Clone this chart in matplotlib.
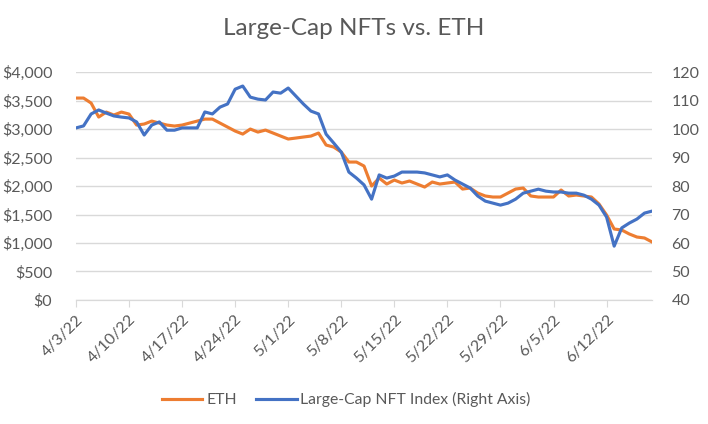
import numpy as np
import pandas as pd
import matplotlib
matplotlib.use("Agg")
import matplotlib.pyplot as plt
import matplotlib.ticker as mticker

# — DATA —
dates = pd.date_range("2022-04-03", "2022-06-18", freq="D")

eth = [3544, 3544, 3456, 3211, 3298, 3246, 3298, 3263, 3070, 3088,
       3140, 3105, 3070, 3053, 3070, 3105, 3140, 3175, 3175, 3105,
       3035, 2965, 2912, 3000, 2947, 2982, 2930, 2877, 2825, 2842,
       2860, 2877, 2930, 2719, 2684, 2596, 2421, 2421, 2351, 2000,
       2140, 2035, 2105, 2053, 2088, 2035, 1982, 2070, 2035, 2053,
       2070, 1947, 1965, 1877, 1825, 1807, 1807, 1877, 1947, 1965,
       1825, 1807, 1807, 1807, 1930, 1825, 1842, 1825, 1807, 1684,
       1491, 1246, 1228, 1158, 1105, 1088, 1018]

nft_index = [100.4, 101.1, 105.3, 106.7, 105.6, 104.6, 104.2, 103.9, 102.5, 97.9,
             101.4, 102.5, 99.6, 99.6, 100.4, 100.4, 100.4, 106.0, 105.3, 107.7,
             108.8, 114.0, 115.1, 111.2, 110.5, 110.2, 113.0, 112.6, 114.4, 111.6,
             108.8, 106.3, 105.3, 98.2, 95.1, 91.9, 84.9, 82.8, 80.4, 75.4,
             83.9, 82.8, 83.5, 84.9, 84.9, 84.9, 84.6, 83.9, 83.2, 83.9,
             82.1, 80.7, 79.3, 76.5, 74.7, 74.0, 73.3, 74.0, 75.4, 77.5,
             78.2, 78.9, 78.2, 77.9, 77.9, 77.5, 77.5, 76.8, 75.4, 73.3,
             69.1, 58.9, 65.3, 67.0, 68.4, 70.5, 71.2]

tick_dates = pd.date_range("2022-04-03", "2022-06-12", freq="7D")
tick_labels = ["4/3/22", "4/10/22", "4/17/22", "4/24/22", "5/1/22", "5/8/22",
               "5/15/22", "5/22/22", "5/29/22", "6/5/22", "6/12/22"]

ORANGE = "#ED7D31"
BLUE = "#4472C4"
GRID = "#D9D9D9"
TEXT = "#595959"

plt.rcParams["font.family"] = ["Lato", "DejaVu Sans"]

fig = plt.figure(figsize=(7.08, 4.24), dpi=100)
ax = fig.add_axes([0.1073, 0.2925, 0.8137, 0.5375])
ax2 = ax.twinx()

ax.plot(dates, eth, color=ORANGE, lw=2.25, solid_joinstyle="round", label="ETH")
ax2.plot(dates, nft_index, color=BLUE, lw=2.25, solid_joinstyle="round",
         label="Large-Cap NFT Index (Right Axis)")

ax.set_xlim(dates[0], dates[-1])
ax.set_ylim(0, 4000)
ax2.set_ylim(40, 120)
ax.yaxis.set_major_locator(mticker.MultipleLocator(500))
ax2.yaxis.set_major_locator(mticker.MultipleLocator(10))
ax.yaxis.set_major_formatter(mticker.FuncFormatter(lambda v, p: f"${v:,.0f}"))

ax.grid(axis="y", color=GRID, lw=1)
ax.set_axisbelow(True)

for a in (ax, ax2):
    for s in ("top", "left", "right"):
        a.spines[s].set_visible(False)
    a.spines["bottom"].set_color(GRID)
    a.tick_params(axis="y", length=0, labelsize=11.5, labelcolor=TEXT)

ax.tick_params(axis="y", pad=17)
ax2.tick_params(axis="y", pad=14)

ax.set_xticks(tick_dates)
ax.set_xticklabels(tick_labels, rotation=45, ha="right", rotation_mode="anchor")
ax.tick_params(axis="x", length=5, color=GRID, labelsize=11.5, labelcolor=TEXT, pad=4)

fig.text(0.5, 0.933, "Large-Cap NFTs vs. ETH", ha="center", va="center",
         fontsize=17.5, color=TEXT)

h1, l1 = ax.get_legend_handles_labels()
h2, l2 = ax2.get_legend_handles_labels()
fig.legend(h1 + h2, l1 + l2, loc="center", bbox_to_anchor=(0.489, 0.057), ncol=2,
           frameon=False, fontsize=11.3, labelcolor=TEXT, handlelength=2.6,
           columnspacing=1.2, handletextpad=0.25)

fig.savefig("out.png", dpi=100)
